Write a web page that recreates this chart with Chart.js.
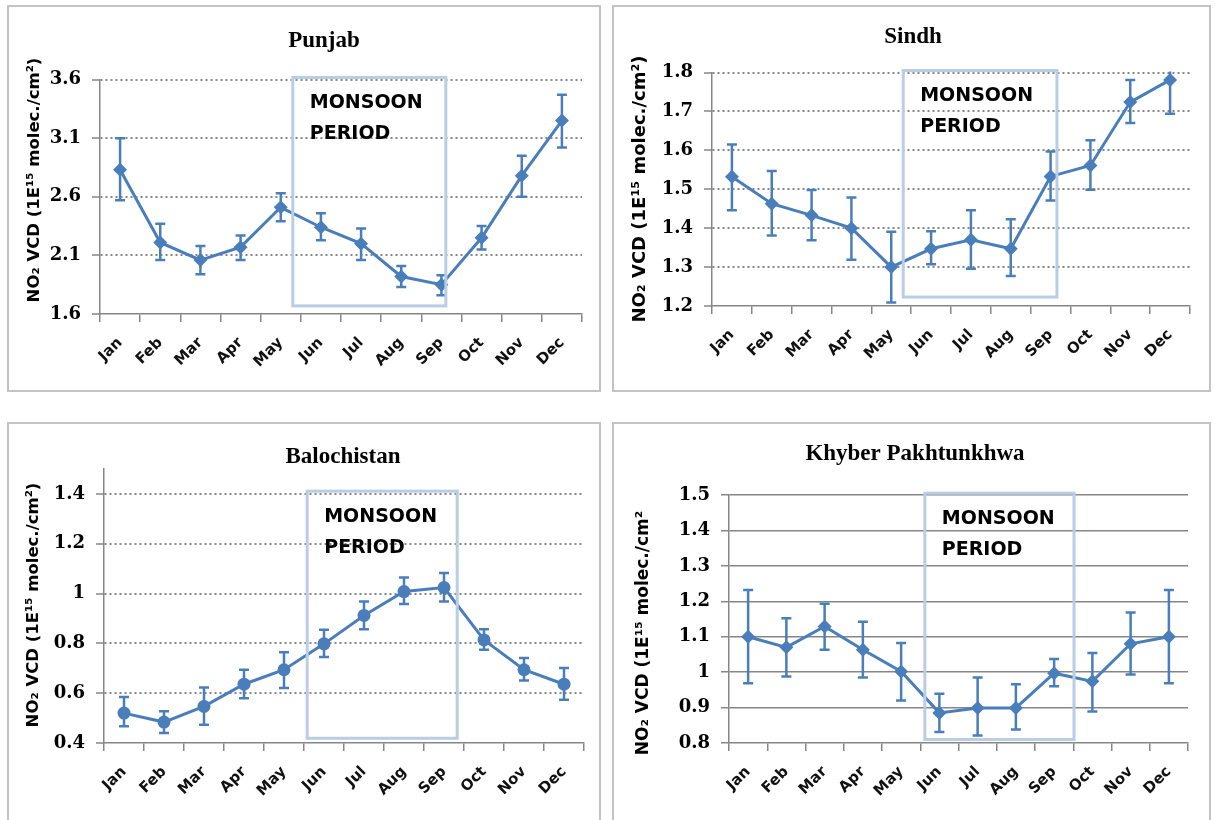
<!DOCTYPE html>
<html>
<head>
<meta charset="utf-8">
<script src="https://cdn.jsdelivr.net/npm/chart.js@4.4.0/dist/chart.umd.min.js"></script>
<style>
  body { margin: 0; background: #fff; width: 1218px; height: 820px; overflow: hidden; position: relative; }
  .panel { position: absolute; border: 2px solid #c3c3c3; box-sizing: border-box; }
  .panel canvas { position: absolute; left: 0; top: 0; }
</style>
</head>
<body>
<div class="panel" id="p1"><canvas id="c1"></canvas></div>
<div class="panel" id="p2"><canvas id="c2"></canvas></div>
<div class="panel" id="p3"><canvas id="c3"></canvas></div>
<div class="panel" id="p4"><canvas id="c4"></canvas></div>
<script>
// data
const months = ['Jan', 'Feb', 'Mar', 'Apr', 'May', 'Jun', 'Jul', 'Aug', 'Sep', 'Oct', 'Nov', 'Dec'];

const punjabMean = [2.83, 2.21, 2.06, 2.17, 2.51, 2.34, 2.20, 1.92, 1.85, 2.25, 2.78, 3.25];
const punjabHigh = [3.10, 2.37, 2.18, 2.27, 2.63, 2.46, 2.33, 2.01, 1.93, 2.35, 2.95, 3.47];
const punjabLow  = [2.57, 2.06, 1.94, 2.06, 2.39, 2.23, 2.06, 1.83, 1.76, 2.15, 2.60, 3.02];
const punjabTicks = [1.6, 2.1, 2.6, 3.1, 3.6];

const sindhMean = [1.532, 1.463, 1.433, 1.400, 1.300, 1.347, 1.370, 1.347, 1.533, 1.561, 1.724, 1.781];
const sindhHigh = [1.615, 1.547, 1.498, 1.479, 1.391, 1.392, 1.446, 1.423, 1.597, 1.626, 1.781, 1.868];
const sindhLow  = [1.446, 1.381, 1.369, 1.319, 1.209, 1.307, 1.296, 1.277, 1.471, 1.499, 1.670, 1.694];
const sindhTicks = [1.2, 1.3, 1.4, 1.5, 1.6, 1.7, 1.8];

const baloMean = [0.520, 0.484, 0.547, 0.636, 0.694, 0.798, 0.912, 1.008, 1.024, 0.814, 0.694, 0.636];
const baloHigh = [0.585, 0.527, 0.623, 0.694, 0.764, 0.855, 0.968, 1.064, 1.082, 0.857, 0.741, 0.701];
const baloLow  = [0.467, 0.440, 0.473, 0.580, 0.621, 0.745, 0.857, 0.958, 0.968, 0.774, 0.651, 0.574];
const baloTicks = [0.4, 0.6, 0.8, 1.0, 1.2, 1.4];

const kpMean = [1.100, 1.070, 1.129, 1.063, 1.002, 0.885, 0.899, 0.899, 0.997, 0.974, 1.080, 1.100];
const kpHigh = [1.232, 1.152, 1.193, 1.142, 1.082, 0.939, 0.985, 0.966, 1.037, 1.054, 1.168, 1.232];
const kpLow  = [0.969, 0.988, 1.063, 0.985, 0.920, 0.831, 0.821, 0.838, 0.960, 0.889, 0.993, 0.969];
const kpTicks = [0.8, 0.9, 1.0, 1.1, 1.2, 1.3, 1.4, 1.5];

const yTitle = 'NO\u2082 VCD (1E\u00b9\u2075 molec./cm\u00b2)';
const yTitleKP = 'NO\u2082 VCD (1E\u00b9\u2075 molec./cm\u00b2';

const BLUE = '#4a7ebb';
const BOX = '#b9cde5';
const GRAY = '#868686';

// error bars behind the markers
const errorBars = {
    id: 'errorBars',
    beforeDatasetsDraw(chart, args, opts) {
        const { ctx, chartArea: a, scales: { x, y } } = chart;
        ctx.save();
        ctx.beginPath();
        ctx.rect(a.left, a.top - 1, a.width, a.height + 1);
        ctx.clip();
        ctx.strokeStyle = BLUE;
        ctx.lineWidth = 2.5;
        opts.high.forEach((hi, i) => {
            const px = x.getPixelForValue(i);
            const y1 = y.getPixelForValue(hi);
            const y2 = y.getPixelForValue(opts.low[i]);
            ctx.beginPath();
            ctx.moveTo(px, y1); ctx.lineTo(px, y2);
            ctx.moveTo(px - 5, y1); ctx.lineTo(px + 5, y1);
            ctx.moveTo(px - 5, y2); ctx.lineTo(px + 5, y2);
            ctx.stroke();
        });
        ctx.restore();
    }
};

// the "MONSOON PERIOD" frame
const monsoon = {
    id: 'monsoon',
    afterDatasetsDraw(chart, args, opts) {
        const { ctx, scales: { x, y } } = chart;
        const l = x.getPixelForValue(opts.from), r = x.getPixelForValue(opts.to);
        const t = y.getPixelForValue(opts.top), b = y.getPixelForValue(opts.bottom);
        ctx.save();
        ctx.strokeStyle = BOX;
        ctx.lineWidth = 3;
        ctx.strokeRect(l, t, r - l, b - t);
        ctx.fillStyle = '#000';
        ctx.font = 'bold 19px "DejaVu Sans"';
        ctx.textBaseline = 'middle';
        ctx.fillText('MONSOON', l + 17, t + 26);
        ctx.fillText('PERIOD', l + 17, t + 57);
        ctx.restore();
    }
};

// chart title and rotated y title
const captions = {
    id: 'captions',
    afterDraw(chart, args, opts) {
        const { ctx } = chart;
        ctx.save();
        ctx.fillStyle = '#000';
        ctx.textAlign = 'center';
        ctx.textBaseline = 'middle';
        ctx.font = 'bold 23px "Liberation Serif"';
        ctx.fillText(opts.title, opts.tx, opts.ty);
        ctx.translate(opts.yx, opts.yy);
        ctx.rotate(-Math.PI / 2);
        ctx.font = 'bold ' + opts.ySize + 'px "DejaVu Sans"';
        ctx.fillText(opts.yText, 0, 0);
        ctx.restore();
    }
};

function buildChart(c) {
    const ox = c.panel.x + 2, oy = c.panel.y + 2;
    const W = c.panel.w - 4, H = c.panel.h - 4;
    const el = document.getElementById(c.pid);
    el.style.left = c.panel.x + 'px';
    el.style.top = c.panel.y + 'px';
    el.style.width = c.panel.w + 'px';
    el.style.height = c.panel.h + 'px';
    const cv = document.getElementById(c.cid);
    cv.width = W; cv.height = H;
    cv.style.width = W + 'px'; cv.style.height = H + 'px';

    const left = c.area.l - ox, top = c.area.t - oy;
    const right = c.area.r - ox, bottom = c.area.b - oy;
    const minV = c.ticks[0];

    return new Chart(cv, {
        type: 'line',
        data: {
            labels: months,
            datasets: [{
                data: c.mean,
                borderColor: BLUE,
                backgroundColor: BLUE,
                borderWidth: 3,
                pointStyle: c.marker,
                pointRadius: c.marker === 'circle' ? 6.5 : 7,
                pointBorderWidth: 0,
                tension: 0,
                clip: false
            }]
        },
        options: {
            responsive: false,
            animation: false,
            layout: { padding: { left: 0, top: top, right: W - right, bottom: 0 } },
            plugins: {
                legend: { display: false },
                tooltip: { enabled: false },
                errorBars: { high: c.high, low: c.low },
                monsoon: c.box,
                captions: {
                    title: c.title, tx: c.tx - ox, ty: c.ty - oy,
                    yText: c.yText, ySize: c.ySize, yx: c.yx - ox, yy: c.yy - oy
                }
            },
            scales: {
                x: {
                    offset: true,
                    grid: { offset: true, drawOnChartArea: false, tickLength: 8, color: GRAY, lineWidth: 1.5 },
                    border: { color: GRAY, width: 1.5 },
                    ticks: {
                        autoSkip: false, minRotation: 45, maxRotation: 45, padding: 12,
                        color: '#111', font: { family: 'DejaVu Sans', weight: 'bold', size: 15 }
                    },
                    afterFit: s => { s.height = H - bottom; }
                },
                y: {
                    min: c.min, max: c.max,
                    afterBuildTicks: s => { s.ticks = c.ticks.map(v => ({ value: v })); },
                    afterFit: s => { s.width = left; },
                    grid: {
                        color: g => (g.tick && g.tick.value === minV) ? 'rgba(0,0,0,0)' : GRAY,
                        lineWidth: c.dotted ? 2 : 1.5,
                        tickLength: 8, tickColor: GRAY, tickWidth: 1.5, tickBorderDash: []
                    },
                    border: { color: GRAY, width: 1.5, dash: c.dotted ? [2, 3] : [] },
                    ticks: {
                        padding: 11, color: '#000',
                        font: { family: 'DejaVu Serif', weight: 'bold', size: 18 },
                        callback: v => String(+v.toFixed(2))
                    }
                }
            }
        },
        plugins: [errorBars, monsoon, captions]
    });
}

buildChart({
    pid: 'p1', cid: 'c1',
    panel: { x: 7, y: 5, w: 594, h: 387 },
    area: { l: 100, t: 79.5, r: 582, b: 314 },
    min: 1.6, max: 3.6, ticks: punjabTicks, dotted: true, marker: 'rectRot',
    mean: punjabMean, high: punjabHigh, low: punjabLow,
    box: { from: 4.30, to: 8.11, top: 3.617, bottom: 1.669 },
    title: 'Punjab', tx: 324, ty: 41,
    yText: yTitle, ySize: 16.5, yx: 35, yy: 180
});

buildChart({
    pid: 'p2', cid: 'c2',
    panel: { x: 612, y: 5, w: 599, h: 387 },
    area: { l: 712, t: 72.5, r: 1190, b: 306 },
    min: 1.2, max: 1.8, ticks: sindhTicks, dotted: true, marker: 'rectRot',
    mean: sindhMean, high: sindhHigh, low: sindhLow,
    box: { from: 4.30, to: 8.16, top: 1.805, bottom: 1.223 },
    title: 'Sindh', tx: 913, ty: 37,
    yText: yTitle, ySize: 18, yx: 640, yy: 189
});

buildChart({
    pid: 'p3', cid: 'c3',
    panel: { x: 7, y: 422, w: 594, h: 400 },
    area: { l: 104, t: 469, r: 584, b: 743 },
    min: 0.4, max: 1.5, ticks: baloTicks, dotted: true, marker: 'circle',
    mean: baloMean, high: baloHigh, low: baloLow,
    box: { from: 4.58, to: 8.33, top: 1.411, bottom: 0.419 },
    title: 'Balochistan', tx: 343, ty: 457,
    yText: yTitle, ySize: 16.5, yx: 34, yy: 605
});

buildChart({
    pid: 'p4', cid: 'c4',
    panel: { x: 612, y: 422, w: 599, h: 400 },
    area: { l: 729, t: 495, r: 1188, b: 743 },
    min: 0.8, max: 1.5, ticks: kpTicks, dotted: false, marker: 'rectRot',
    mean: kpMean, high: kpHigh, low: kpLow,
    box: { from: 4.62, to: 8.52, top: 1.505, bottom: 0.81 },
    title: 'Khyber Pakhtunkhwa', tx: 915, ty: 454,
    yText: yTitleKP, ySize: 17, yx: 644, yy: 633
});
</script>
</body>
</html>
